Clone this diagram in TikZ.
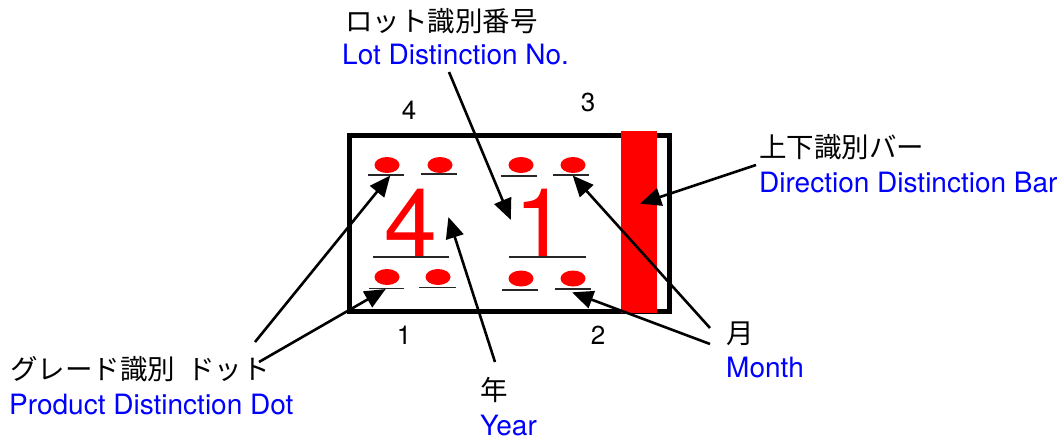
\documentclass[tikz,border=0pt]{standalone}
\usepackage{fontspec}
\setmainfont{TeX Gyre Heros}
\newfontfamily\cjk{Noto Sans CJK JP}
\usetikzlibrary{arrows.meta,shapes.geometric}
\definecolor{labelblue}{RGB}{0,0,255}
\tikzset{
  x=1pt,y=-1pt,
  frame/.style={draw=black,line width=5.5pt,fill=white},
  bar/.style={fill=red,draw=none},
  dot/.style={ellipse,fill=red,draw=none,minimum width=25pt,minimum height=16pt,inner sep=0pt},
  rule/.style={draw=black!85,line width=1.8pt},
  call/.style={draw=black,line width=2.6pt,-{Triangle[length=21pt,width=18pt]},shorten >=-2pt},
  jp/.style={anchor=base west,inner sep=0pt,font=\fontsize{27.5pt}{28pt}\cjk},
  en/.style={anchor=base west,inner sep=0pt,text=labelblue,font=\fontsize{28pt}{29pt}\selectfont},
  num/.style={inner sep=0pt,font=\fontsize{26pt}{27pt}\selectfont},
  big/.style={inner sep=0pt,anchor=base,text=red,font=\fontsize{95pt}{96pt}\selectfont},
}
\begin{document}
\begin{tikzpicture}
\useasboundingbox (0,0) rectangle (1064,440);
% frame and bar
\draw[frame] (349.5,135.5) rectangle (669.5,311.5);
\fill[bar] (621,131) rectangle (657,313);
% dots
\node[dot] (d1) at (387,165) {};
\node[dot] (d2) at (440,165) {};
\node[dot] (d3) at (521,165) {};
\node[dot] (d4) at (573,165) {};
\node[dot] (d5) at (387,277) {};
\node[dot] (d6) at (438,277) {};
\node[dot] (d7) at (521,278.5) {};
\node[dot] (d8) at (573,278.5) {};
% rules
\draw[rule] (368,175) -- (404,175);
\draw[rule] (421,174) -- (457,174);
\draw[rule] (501,176) -- (537,176);
\draw[rule] (553,175) -- (589,175);
\draw[rule] (373,257) -- (449,257);
\draw[rule] (509,257) -- (586,257);
\draw[rule] (369,288.5) -- (404,288.5);
\draw[rule] (419,287.5) -- (456,287.5);
\draw[rule] (502,290) -- (538,290);
\draw[rule] (555,289) -- (591,289);
% big digits
\node[big] (bigfour) at (411,256) {4};
\node[big] (bigone) at (541,256) {1};
% corner numbers
\node[num] (n4) at (409,110) {4};
\node[num] (n3) at (588,102) {3};
\node[num] (n1) at (404,335) {1};
\node[num] (n2) at (598,335) {2};
% labels
\node[jp] (lotjp) at (345,31) {ロット識別番号};
\node[en] (loten) at (342,64) {Lot Distinction No.};
\node[jp] (dirjp) at (759,157) {上下識別バー};
\node[en] (diren) at (759,192) {Direction Distinction Bar};
\node[jp] (monjp) at (726,343) {月};
\node[en] (monen) at (726,377) {Month};
\node[jp] (grdjp) at (10,379) {グレード識別\hspace{12pt}ドット};
\node[en] (grden) at (9,414) {Product Distinction Dot};
\node[jp] (yearjp) at (480,400) {年};
\node[en] (yearen) at (480,435) {Year};
% connector ends
\coordinate (lotS) at (449,72);
\coordinate (lotT) at (510,218);
\coordinate (dirS) at (756,165);
\coordinate (dirT) at (642,203);
\coordinate (monS) at (710,328);
\coordinate (monT) at (574,177);
\coordinate (monS2) at (710,344);
\coordinate (monT2) at (574,293);
\coordinate (yearS) at (495,362);
\coordinate (yearT) at (449,219);
\coordinate (grdS) at (255,342);
\coordinate (grdT) at (389,177);
\coordinate (grdS2) at (259,362);
\coordinate (grdT2) at (384,290);
% connectors
\draw[call] (lotS) -- (lotT);
\draw[call] (dirS) -- (dirT);
\draw[call] (monS) -- (monT);
\draw[call] (monS2) -- (monT2);
\draw[call] (yearS) -- (yearT);
\draw[call] (grdS) -- (grdT);
\draw[call] (grdS2) -- (grdT2);
\end{tikzpicture}
\end{document}
